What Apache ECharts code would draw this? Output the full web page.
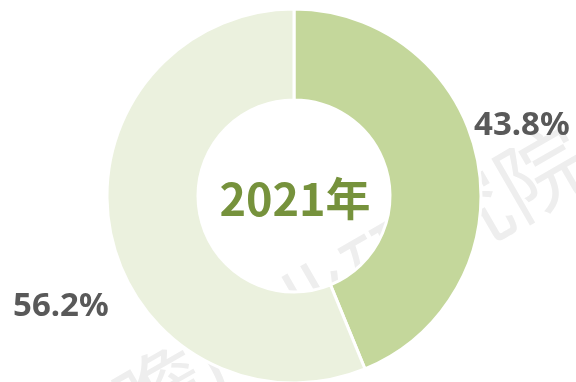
<!DOCTYPE html>
<html>
<head>
<meta charset="utf-8">
<script src="https://cdn.jsdelivr.net/npm/echarts@6/dist/echarts.min.js"></script>
<style>
  html, body { margin: 0; padding: 0; background: #ffffff; }
  #chart { width: 576px; height: 382px; }
</style>
</head>
<body>
<div id="chart"></div>
<script>
// Share of the two segments in 2021
const categories = ['A', 'B'];
const shares = [43.8, 56.2];
const yearLabel = '2021年';
const watermark = '前瞻产业研究院';

const sliceColors = ['#c4d79b', '#ebf1de'];
// Fixed label anchors (pixel positions) for the two slices
const labelAnchors = [
  { x: 474, y: 126, align: 'left' },
  { x: 13, y: 307, align: 'left' }
];

const chart = echarts.init(document.getElementById('chart'), null, { renderer: 'canvas' });

chart.setOption({
  backgroundColor: '#ffffff',
  animation: false,
  graphic: [
    {
      type: 'text',
      z: -10,
      x: 580,
      y: 150,
      rotation: Math.PI / 6,
      style: {
        text: watermark,
        font: '88px "Noto Sans CJK SC"',
        fill: '#eeeeee',
        align: 'right',
        verticalAlign: 'middle'
      }
    },
    {
      type: 'text',
      z: 100,
      x: 295,
      y: 199,
      style: {
        text: yearLabel,
        font: 'bold 45px "Noto Sans CJK SC"',
        fill: '#76923c',
        align: 'center',
        verticalAlign: 'middle'
      }
    }
  ],
  series: [
    {
      type: 'pie',
      center: [294, 196],
      radius: [96, 187],
      startAngle: 90,
      clockwise: true,
      avoidLabelOverlap: false,
      itemStyle: { borderColor: '#ffffff', borderWidth: 3 },
      label: {
        show: true,
        position: 'outside',
        formatter: p => p.value.toFixed(1) + '%',
        fontFamily: '"Noto Sans"',
        fontWeight: 'bold',
        fontSize: 33,
        color: '#595959'
      },
      labelLine: { show: false },
      labelLayout: p => ({
        x: labelAnchors[p.dataIndex].x,
        y: labelAnchors[p.dataIndex].y,
        align: labelAnchors[p.dataIndex].align,
        verticalAlign: 'middle'
      }),
      emphasis: { disabled: true },
      data: categories.map((c, i) => ({
        name: c,
        value: shares[i],
        itemStyle: { color: sliceColors[i] }
      }))
    }
  ]
});
</script>
</body>
</html>
